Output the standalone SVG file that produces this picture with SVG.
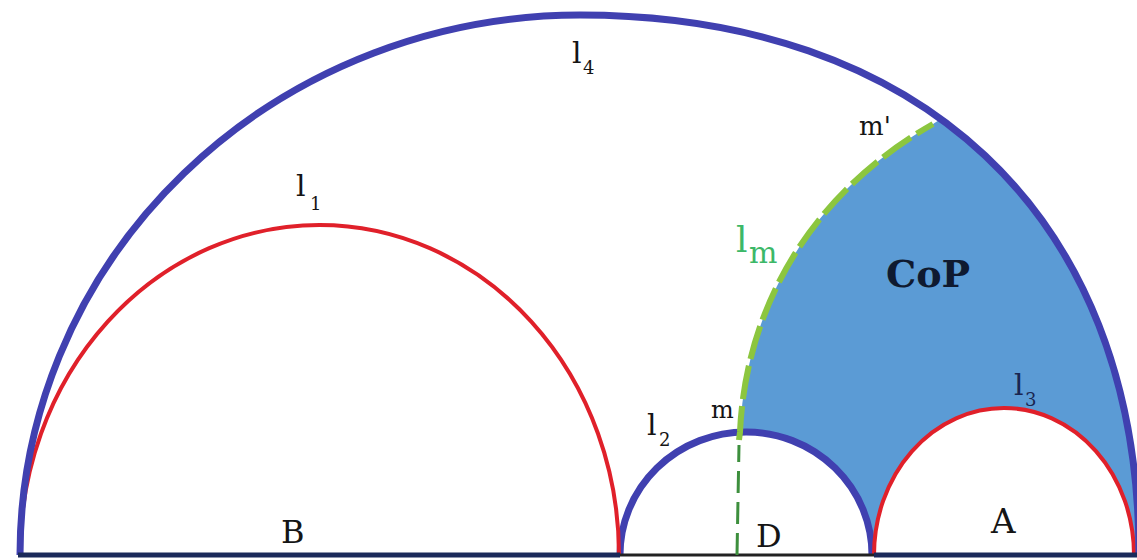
<svg xmlns="http://www.w3.org/2000/svg" width="1137" height="560" viewBox="0 0 1137 560">
  <style>
    .lbl { font-family: "DejaVu Serif", "Liberation Serif", serif; fill: #151515; }
    .red { fill: none; stroke: #e0202a; stroke-width: 4; }
    .blu { fill: none; stroke: #4040b0; stroke-width: 7; }
  </style>
  <defs>
    <clipPath id="insideL4">
      <path d="M20,555 A560 540 0 0 1 580,15 C915,15 1139,210 1139,555 Z"/>
    </clipPath>
  </defs>
  <rect width="1137" height="560" fill="#ffffff"/>

  <g id="CoP-region" clip-path="url(#insideL4)">
    <path d="M737,555 L740,432 C745,320 800,200 933,124 L1137,-10 L1137,555 Z" fill="#5b9bd5"/>
  </g>

  <g id="l2">
    <path d="M620,555 A126 123 0 0 1 872,555 Z" fill="#ffffff"/>
    <path class="blu" d="M620,555 A126 123 0 0 1 872,555"/>
  </g>
  <g id="l3">
    <path d="M874,555 A130 147 0 0 1 1134,555 Z" fill="#ffffff"/>
    <path class="red" d="M874,555 A130 147 0 0 1 1134,555"/>
  </g>
  <g id="l1">
    <path class="red" d="M20,555 A299.5 330 0 0 1 619,555"/>
  </g>
  <g id="l4">
    <path class="blu" d="M20,555 A560 540 0 0 1 580,15 C915,15 1139,210 1139,555"/>
  </g>

  <g id="baseline">
    <line x1="18" y1="555" x2="620" y2="555" stroke="#1b2a5a" stroke-width="5"/>
    <line x1="620" y1="555" x2="874" y2="555" stroke="#222222" stroke-width="3"/>
    <line x1="874" y1="555" x2="1137" y2="555" stroke="#1b2a5a" stroke-width="5"/>
  </g>

  <g id="lm">
    <path d="M737,555 L739,445" fill="none" stroke="#3d8f3d" stroke-width="3" stroke-dasharray="22 9"/>
    <path d="M739,440 L740,432 C745,320 800,200 933,124" fill="none" stroke="#8cc63f" stroke-width="6" stroke-dasharray="34 7"/>
  </g>

  <g id="labels">
    <text class="lbl" x="572" y="63" font-size="30">l</text>
    <text class="lbl" x="583" y="74" font-size="18">4</text>

    <text class="lbl" x="296" y="196" font-size="30">l</text>
    <text class="lbl" x="310" y="210" font-size="18">1</text>

    <text class="lbl" x="647" y="435" font-size="30">l</text>
    <text class="lbl" x="659" y="446" font-size="18">2</text>

    <text class="lbl" x="1014" y="395" font-size="30" fill="#1a2550" style="fill:#1a2550">l</text>
    <text class="lbl" x="1025" y="406" font-size="18" style="fill:#1a2550">3</text>

    <text class="lbl" x="736" y="252" font-size="36" style="fill:#3cb868">l</text>
    <text class="lbl" x="749" y="263" font-size="30" style="fill:#3cb868">m</text>

    <text class="lbl" x="711" y="418" font-size="24">m</text>
    <text class="lbl" x="859" y="135" font-size="26">m'</text>

    <text class="lbl" x="886" y="287" font-size="38" font-weight="bold" style="fill:#0f1a30">CoP</text>

    <text class="lbl" x="281" y="543" font-size="32">B</text>
    <text class="lbl" x="756" y="547" font-size="32">D</text>
    <text class="lbl" x="991" y="533" font-size="34">A</text>
  </g>
</svg>
